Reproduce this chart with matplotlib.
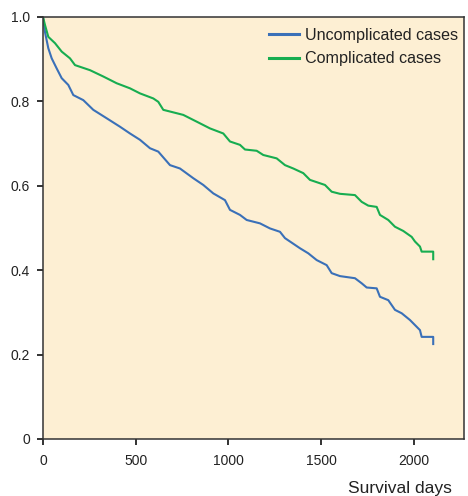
import matplotlib
matplotlib.use("Agg")
import matplotlib.pyplot as plt

# ---- data ----
blue_days = [0, 10.8, 28.6, 46.9, 73.9, 100.8, 136.4, 163.4, 217.3, 271.2, 343.4, 415.1,
             469.0, 522.9, 576.9, 621.6, 684.7, 738.6, 810.3, 864.2, 918.2, 981.2, 1008.2,
             1062.1, 1098.2, 1169.9, 1223.8, 1277.8, 1304.7, 1385.6, 1430.4, 1475.6, 1529.5,
             1556.5, 1601.2, 1682.1, 1718.2, 1745.2, 1799.1, 1816.9, 1861.7, 1897.8, 1933.9,
             1978.6, 2005.6, 2032.6, 2041.7, 2104, 2104]
blue_surv = [1.0, 0.964, 0.926, 0.902, 0.878, 0.855, 0.839, 0.815, 0.803, 0.780, 0.760, 0.740,
             0.724, 0.709, 0.689, 0.681, 0.649, 0.641, 0.618, 0.602, 0.582, 0.566, 0.543,
             0.531, 0.519, 0.511, 0.499, 0.491, 0.476, 0.452, 0.440, 0.424, 0.412,
             0.393, 0.386, 0.381, 0.369, 0.359, 0.357, 0.337, 0.329, 0.306, 0.298,
             0.282, 0.270, 0.258, 0.242, 0.242, 0.225]

green_days = [0, 10.8, 28.6, 64.7, 100.8, 145.6, 172.5, 253.4, 325.1, 397.3, 469.0, 522.9,
              594.7, 621.6, 648.6, 720.8, 756.4, 828.7, 900.4, 972.1, 1008.2, 1062.1, 1089.1,
              1152.2, 1187.7, 1260.0, 1304.7, 1349.5, 1403.4, 1439.5, 1520.4, 1556.5, 1601.2,
              1682.1, 1718.2, 1753.8, 1799.1, 1816.9, 1861.7, 1897.8, 1942.5, 1987.8, 2005.6,
              2032.6, 2041.7, 2104, 2104]
green_surv = [1.0, 0.981, 0.953, 0.938, 0.918, 0.902, 0.886, 0.874, 0.859, 0.843, 0.831, 0.819,
              0.807, 0.799, 0.780, 0.772, 0.768, 0.752, 0.736, 0.724, 0.705, 0.697, 0.686,
              0.683, 0.673, 0.665, 0.649, 0.641, 0.630, 0.614, 0.602, 0.586, 0.581,
              0.578, 0.562, 0.553, 0.550, 0.531, 0.519, 0.503, 0.493, 0.479, 0.468,
              0.456, 0.444, 0.444, 0.426]

series_labels = ["Uncomplicated cases", "Complicated cases"]
x_ticks = [0, 500, 1000, 1500, 2000]
y_ticks = [0, 0.2, 0.4, 0.6, 0.8, 1.0]
y_tick_labels = ["0", "0.2", "0.4", "0.6", "0.8", "1.0"]

plt.rcParams['font.family'] = ['Liberation Sans', 'DejaVu Sans']

fig = plt.figure(figsize=(4.68, 4.96), dpi=100)
ax = fig.add_axes([43/468, 57/496, 421/468, 422/496])
ax.set_facecolor('#FDEFD3')

blue = '#3A70B8'
green = '#17AD50'
ax.plot(blue_days, blue_surv, color=blue, lw=1.5, label=series_labels[0])
ax.plot(green_days, green_surv, color=green, lw=1.5, label=series_labels[1])

ax.set_xlim(0, 2270)
ax.set_ylim(0, 1.0)
ax.set_xticks(x_ticks)
ax.set_xticklabels([str(t) for t in x_ticks])
ax.set_yticks(y_ticks)
ax.set_yticklabels(y_tick_labels)

for s in ax.spines.values():
    s.set_color('#333333')
    s.set_linewidth(1.1)
ax.tick_params(axis='both', direction='out', length=4.5, width=1.3, color='#222222',
               labelsize=10, labelcolor='#222222')
ax.tick_params(axis='x', pad=6)
ax.tick_params(axis='y', pad=5)

leg = ax.legend(loc='upper right', bbox_to_anchor=(0.985, 0.975), frameon=False,
                fontsize=11.6, handlelength=1.85, handletextpad=0.35, labelspacing=0.55,
                borderpad=0, borderaxespad=0)
for t in leg.get_texts():
    t.set_color('#222222')
for h in leg.get_lines():
    h.set_linewidth(2.2)

fig.text(348/468, (496-481)/496, "Survival days", fontsize=12.5, color='#222222',
         ha='left', va='top')

fig.savefig("out.png", dpi=100)
